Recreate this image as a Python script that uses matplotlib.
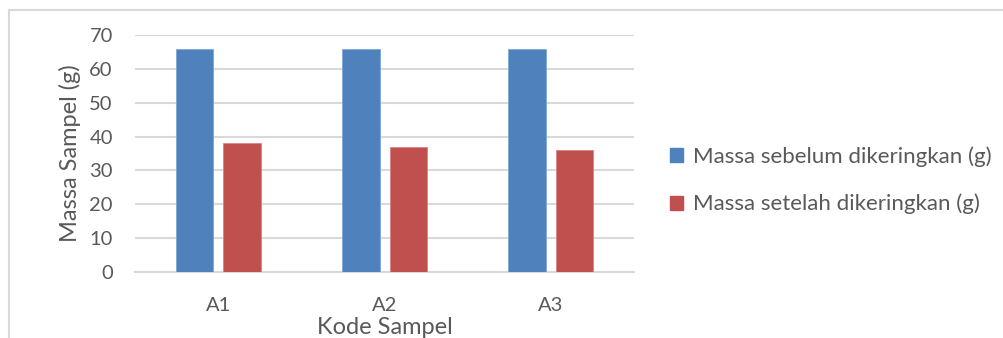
import numpy as np
import matplotlib.pyplot as plt
from matplotlib.lines import Line2D
from matplotlib.patches import Patch

# data
kode = ["A1", "A2", "A3"]
sebelum = [66, 66, 66]
setelah = [38, 37, 36]
label_sebelum = "Massa sebelum dikeringkan (g)"
label_setelah = "Massa setelah dikeringkan (g)"

plt.rcParams['font.family'] = ['Lato', 'DejaVu Sans']
abu = "#595959"

fig = plt.figure(figsize=(10.04, 3.38), dpi=100)
ax = fig.add_axes([0.1345, 0.1953, 0.497, 0.7011])

x = np.arange(len(kode))
w = 0.225
gap = 0.06
ax.bar(x - (w + gap) / 2, sebelum, w, color="#4f81bd", edgecolor="#7ea6d6",
       linewidth=0.6, label=label_sebelum, zorder=3)
ax.bar(x + (w + gap) / 2, setelah, w, color="#c0504d", edgecolor="#d98583",
       linewidth=0.6, label=label_setelah, zorder=3)

ax.set_xlim(-0.5, 2.5)
ax.set_ylim(0, 70)
ax.set_yticks(range(0, 71, 10))
ax.set_xticks(x)
ax.set_xticklabels(kode)
ax.yaxis.grid(True, color="#d9d9d9", linewidth=1.5, zorder=0)
for s in ["top", "right", "left"]:
    ax.spines[s].set_visible(False)
ax.spines["bottom"].set_color("#d9d9d9")
ax.spines["bottom"].set_linewidth(1.5)
ax.tick_params(axis="both", length=0, labelsize=14.5, colors=abu)
ax.tick_params(axis="y", pad=16)
ax.tick_params(axis="x", pad=18)

ax.set_ylabel("Massa Sampel (g)", fontsize=17, color=abu, labelpad=6)
ax.set_xlabel("Kode Sampel", fontsize=17, color=abu, labelpad=2)

leg = fig.legend(handles=[Patch(color="#4f81bd", label=label_sebelum),
                          Patch(color="#c0504d", label=label_setelah)],
                 loc="center left", bbox_to_anchor=(0.647, 0.466),
                 frameon=False, fontsize=16, handlelength=0.6, handleheight=0.6,
                 handletextpad=0.45, labelspacing=1.2, labelcolor=abu)

# frame of the chart area
fig.add_artist(Line2D([0.009, 0.009], [0, 0.97], transform=fig.transFigure,
                      color="#d9d9d9", linewidth=1.5))
fig.add_artist(Line2D([0.009, 1.0], [0.97, 0.97], transform=fig.transFigure,
                      color="#d9d9d9", linewidth=1.5))

fig.savefig("out.png", dpi=100)
